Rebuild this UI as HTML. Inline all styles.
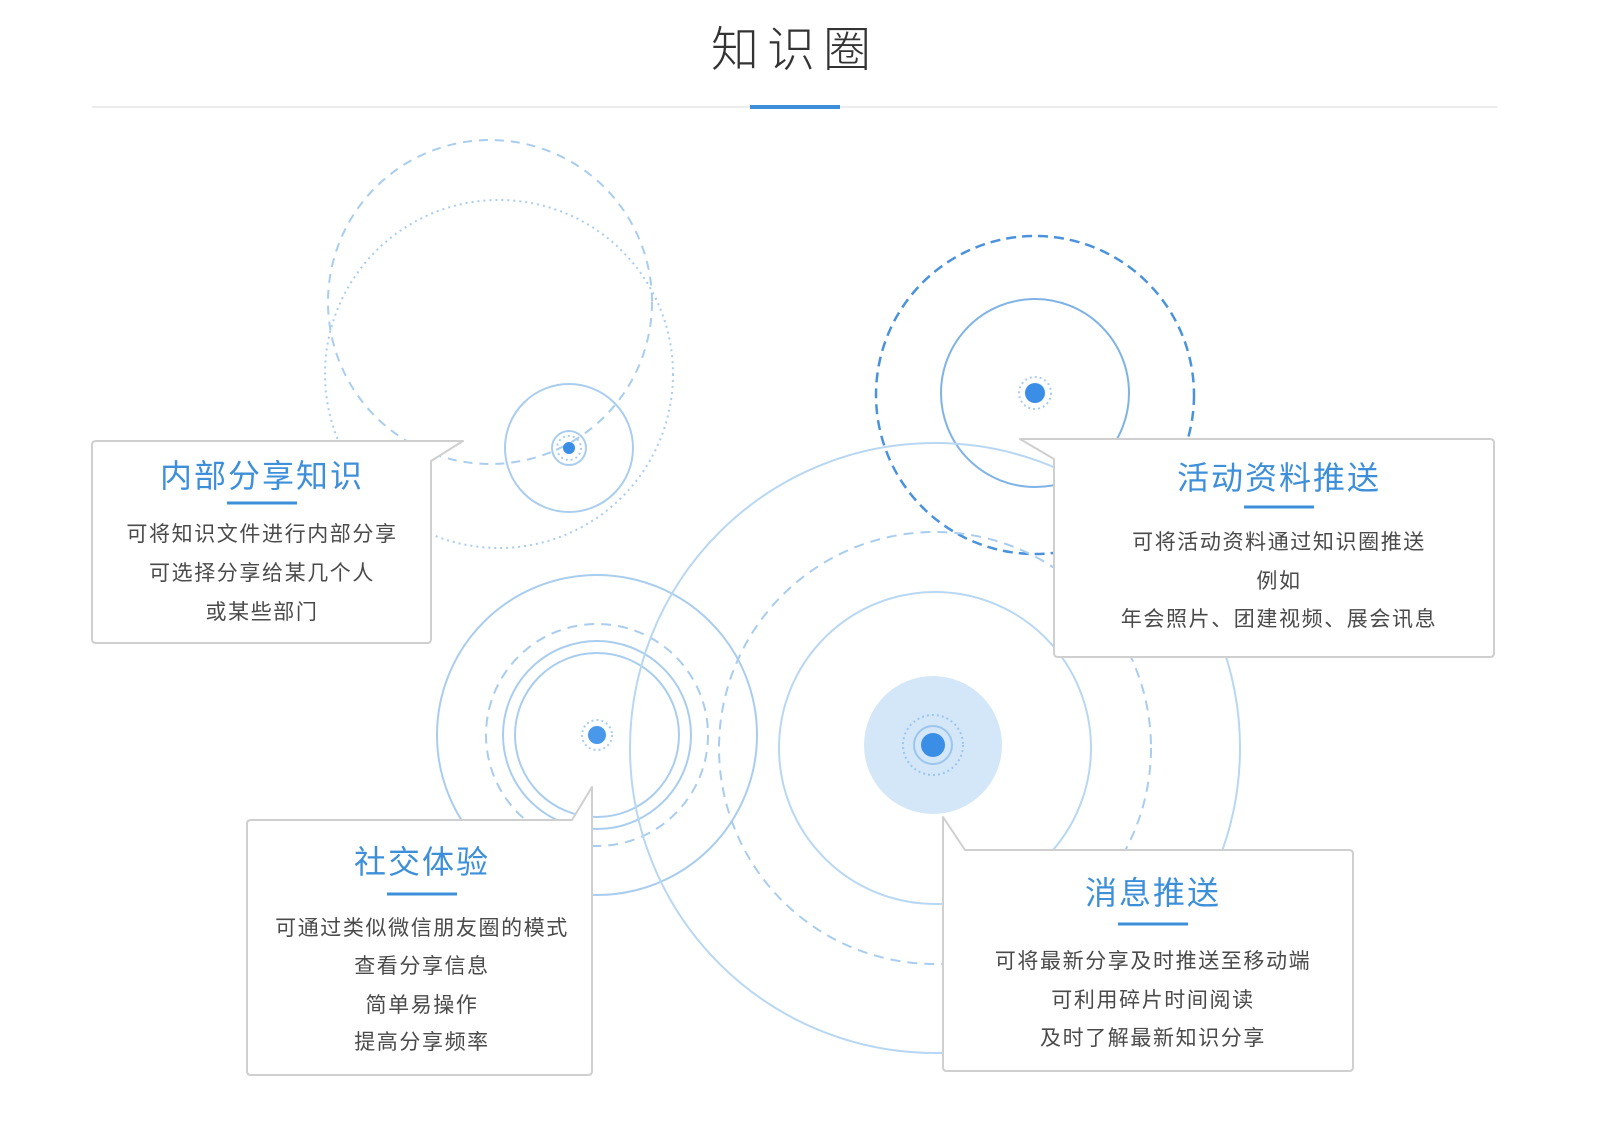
<!DOCTYPE html>
<html><head><meta charset="utf-8"><style>
html,body{margin:0;padding:0;background:#fff;}
svg{display:block;}
text{font-family:"Liberation Sans","Noto Sans CJK SC",sans-serif;}
.t{fill:#3d8fd9;font-size:32px;text-anchor:middle;letter-spacing:2px;}
.b{fill:#4a4a4a;font-size:21px;text-anchor:middle;letter-spacing:1.6px;}
</style></head><body>
<svg width="1600" height="1127" viewBox="0 0 1600 1127">
<text x="795" y="66" text-anchor="middle" style="font-size:48px;fill:#333;letter-spacing:8px;font-weight:300">知识圈</text>
<line x1="92" y1="107" x2="1497" y2="107" stroke="#ececec" stroke-width="2"/>
<line x1="750" y1="107" x2="840" y2="107" stroke="#3d8fd9" stroke-width="4"/>
<g fill="none" stroke="#a9cdee" stroke-width="2">
<circle cx="490" cy="302" r="162" stroke-dasharray="9 7"/>
<circle cx="499" cy="374" r="174" stroke-dasharray="2 4"/>
<circle cx="569" cy="448" r="64"/>
<circle cx="569" cy="448" r="17"/>
<circle cx="569" cy="448" r="12" stroke-dasharray="2 3"/>
<circle cx="1035" cy="395" r="159" stroke="#4a92dc" stroke-width="2.5" stroke-dasharray="10 6"/>
<circle cx="1035" cy="393" r="94" stroke="#7fb3e6"/>
<circle cx="1035" cy="393" r="16" stroke-dasharray="2 3"/>
<circle cx="597" cy="735" r="160"/>
<circle cx="597" cy="735" r="111" stroke-dasharray="10 7"/>
<circle cx="597" cy="735" r="94"/>
<circle cx="597" cy="735" r="82"/>
<circle cx="597" cy="735" r="15" stroke-dasharray="2 3"/>
<circle cx="935" cy="748" r="305" stroke="#b8d7f2"/>
<circle cx="935" cy="748" r="216" stroke-dasharray="10 7"/>
<circle cx="935" cy="748" r="156" stroke="#b8d7f2"/>
</g>
<circle cx="933" cy="745" r="69" fill="#d4e7f8"/>
<circle cx="933" cy="745" r="19" fill="none" stroke="#9cc6ee" stroke-width="2"/>
<circle cx="933" cy="745" r="30" fill="none" stroke="#9cc6ee" stroke-width="2" stroke-dasharray="2 3"/>
<circle cx="933" cy="745" r="12" fill="#3a8ee6"/>
<circle cx="569" cy="448" r="6" fill="#3a8ee6"/>
<circle cx="1035" cy="393" r="10" fill="#3a8ee6"/>
<circle cx="597" cy="735" r="9" fill="#4a98ea"/>
<g fill="#fff" stroke="#cfcfcf" stroke-width="2" stroke-linejoin="round">
<path d="M96 441 H463 L431 461 V639 Q431 643 427 643 H96 Q92 643 92 639 V445 Q92 441 96 441 Z"/>
<path d="M1020 439 H1490 Q1494 439 1494 443 V653 Q1494 657 1490 657 H1058 Q1054 657 1054 653 V459 Z"/>
<path d="M251 820 H572 L592 787 V1071 Q592 1075 588 1075 H251 Q247 1075 247 1071 V824 Q247 820 251 820 Z"/>
<path d="M943 817 L965 850 H1349 Q1353 850 1353 854 V1067 Q1353 1071 1349 1071 H947 Q943 1071 943 1067 Z"/>
</g>
<g>
<text class="t" x="262" y="487">内部分享知识</text>
<line x1="227" y1="503" x2="297" y2="503" stroke="#3d8fd9" stroke-width="3"/>
<text class="b" x="262" y="541">可将知识文件进行内部分享</text>
<text class="b" x="262" y="580">可选择分享给某几个人</text>
<text class="b" x="262" y="619">或某些部门</text>

<text class="t" x="1279" y="489">活动资料推送</text>
<line x1="1244" y1="507" x2="1314" y2="507" stroke="#3d8fd9" stroke-width="3"/>
<text class="b" x="1279" y="549">可将活动资料通过知识圈推送</text>
<text class="b" x="1279" y="588">例如</text>
<text class="b" x="1279" y="626">年会照片、团建视频、展会讯息</text>

<text class="t" x="422" y="873">社交体验</text>
<line x1="387" y1="894" x2="457" y2="894" stroke="#3d8fd9" stroke-width="3"/>
<text class="b" x="422" y="935">可通过类似微信朋友圈的模式</text>
<text class="b" x="422" y="973">查看分享信息</text>
<text class="b" x="422" y="1012">简单易操作</text>
<text class="b" x="422" y="1049">提高分享频率</text>

<text class="t" x="1153" y="904">消息推送</text>
<line x1="1118" y1="924" x2="1188" y2="924" stroke="#3d8fd9" stroke-width="3"/>
<text class="b" x="1153" y="968">可将最新分享及时推送至移动端</text>
<text class="b" x="1153" y="1007">可利用碎片时间阅读</text>
<text class="b" x="1153" y="1045">及时了解最新知识分享</text>
</g>
</svg>
</body></html>
